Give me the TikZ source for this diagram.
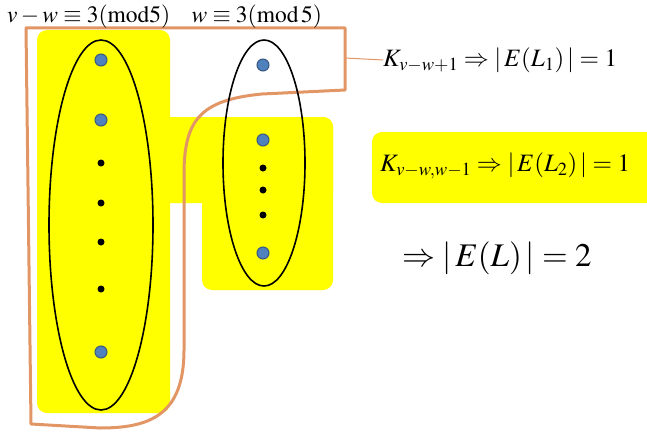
\documentclass[tikz,border=0pt]{standalone}
\usepackage{mathptmx}
\definecolor{hlyellow}{RGB}{255,255,0}
\definecolor{bndorange}{RGB}{226,150,102}
\definecolor{dotblue}{RGB}{79,129,189}
\definecolor{dotedge}{RGB}{56,88,128}
\begin{document}
\begin{tikzpicture}[x=1pt, y=-1pt, vtx/.style={circle, fill=dotblue, draw=dotedge, line width=1pt, minimum size=12pt, inner sep=0pt}, gapdot/.style={circle, fill=black, minimum size=7pt, inner sep=0pt}, hl/.style={fill=hlyellow, rounded corners=10pt}, bound/.style={draw=bndorange, line width=3pt, line join=round}, txt/.style={anchor=west, inner sep=0pt}]
		\useasboundingbox (0,0) rectangle (647,444);
		\fill[hl] (37,30) rectangle (170,413);
		\fill[hl] (160,117) rectangle (333,203);
		\fill[hl] (202,117) rectangle (333,290);
		\fill[hl] (372,132) rectangle (660,203);
		\draw[bound] (26,28) -- (345,28) -- (345,90) -- (262,94) .. controls (200,100) and (184,120) .. (184,175) -- (184,350) .. controls (184,415) and (150,428) .. (100,428) -- (31,424) -- cycle;
		\draw[line width=1.6pt] (101,225) ellipse [x radius=52, y radius=185];
		\draw[line width=1.6pt] (264,163) ellipse [x radius=41, y radius=123];
		\node[vtx] (l1) at (101,60) {};
		\node[vtx] (l2) at (101,120) {};
		\node[gapdot] (l3) at (101,163) {};
		\node[gapdot] (l4) at (101,203) {};
		\node[gapdot] (l5) at (101,242) {};
		\node[gapdot] (l6) at (101,289) {};
		\node[vtx] (l7) at (101,352) {};
		\node[vtx] (r1) at (263,65) {};
		\node[vtx] (r2) at (263,140) {};
		\node[gapdot] (r3) at (263,168) {};
		\node[gapdot] (r4) at (263,190) {};
		\node[gapdot] (r5) at (263,215) {};
		\node[vtx] (r6) at (263,253) {};
		\node[txt] (cond) at (7,17) {\fontsize{23.5}{28}\selectfont $v-w\equiv 3(\mathrm{mod}5)$\ \ \ $w\equiv 3(\mathrm{mod}\,5)$};
		\node[txt] (kone) at (383,60) {\fontsize{25}{28}\selectfont $K_{v-w+1}\Rightarrow|\,E(L_1)\,|=1$};
		\node[txt] (ktwo) at (380,166) {\fontsize{25}{28}\selectfont $K_{v-w,w-1}\Rightarrow|\,E(L_2)\,|=1$};
		\node[txt] (total) at (402,258) {\fontsize{33}{38}\selectfont $\Rightarrow|\,E(L)\,|=2$};
		\coordinate (tap) at (345,58);
		\draw[bndorange, line width=1pt] (tap) -- (kone.west);
	\end{tikzpicture}
\end{document}
